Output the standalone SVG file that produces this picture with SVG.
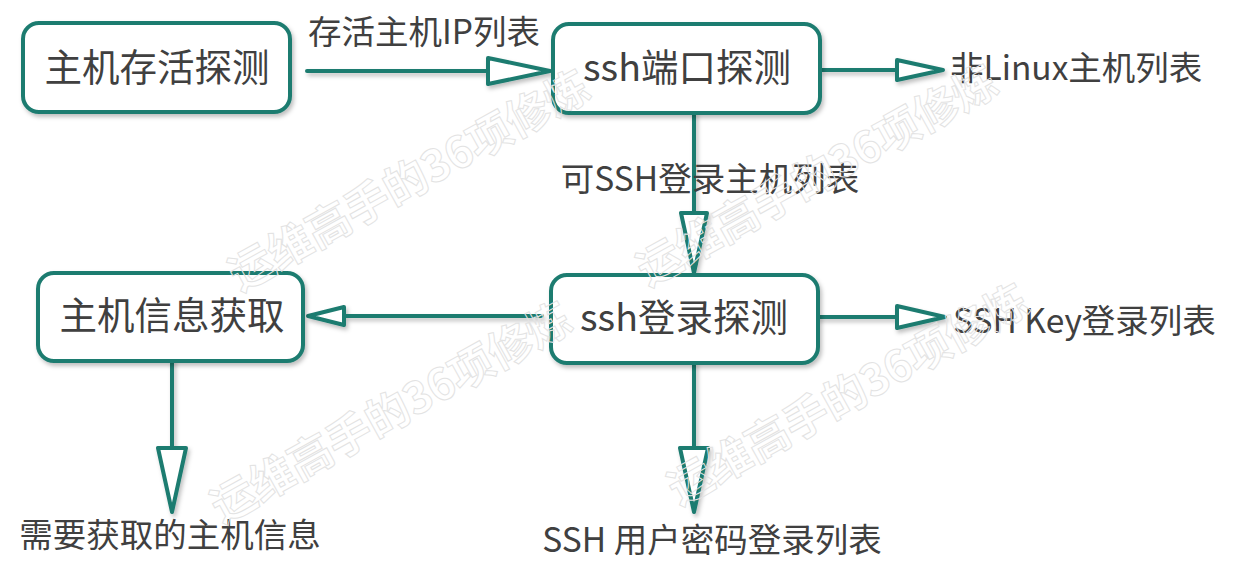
<svg xmlns="http://www.w3.org/2000/svg" width="1239" height="582" viewBox="0 0 1239 582">
<style>
.box{fill:#fff;stroke:#1e7b70;stroke-width:4;filter:url(#sh)}
.ln{fill:none;stroke:#1e7b70;stroke-width:4;stroke-linecap:round}
.hd{fill:#fff;stroke:#1e7b70;stroke-width:4;stroke-linejoin:round}
.t{font-family:"Noto Sans CJK SC","Noto Sans",sans-serif;fill:#404040}
.nt{font-size:37.5px;text-anchor:middle}
.lb{font-size:33.5px}
.wm{font-family:"Noto Sans CJK SC",sans-serif;font-size:44px;font-weight:700;fill:none;stroke:#e3e3e3;stroke-width:1}
</style>
<defs>
<filter id="sh" x="-10%" y="-10%" width="130%" height="140%">
<feDropShadow dx="2" dy="3" stdDeviation="2" flood-color="#000" flood-opacity="0.25"/>
</filter>
</defs>
<rect width="1239" height="582" fill="#fff"/>
<g id="connectors" filter="url(#sh)">
<line class="ln" x1="307" y1="71" x2="488" y2="71"/>
<polygon class="hd" points="488,58 550,71 488,84"/>
<line class="ln" x1="822" y1="70" x2="897" y2="70"/>
<polygon class="hd" points="897,60 943,70 897,80"/>
<line class="ln" x1="694" y1="113" x2="694" y2="213"/>
<polygon class="hd" points="681,213 707,213 694,273"/>
<line class="ln" x1="542" y1="316" x2="344" y2="316"/>
<polygon class="hd" points="344,307 308,316 344,325"/>
<line class="ln" x1="818" y1="317" x2="897" y2="317"/>
<polygon class="hd" points="897,306 945,317 897,328"/>
<line class="ln" x1="694" y1="363" x2="694" y2="448"/>
<polygon class="hd" points="680,448 708,448 694,512"/>
<line class="ln" x1="172" y1="360" x2="172" y2="448"/>
<polygon class="hd" points="158,448 186,448 172,512"/>
</g>
<g id="node-alive">
<rect class="box" x="23" y="23" width="267" height="89" rx="16"/>
<text class="t nt" x="157" y="81">主机存活探测</text>
</g>
<g id="node-port">
<rect class="box" x="553" y="24" width="267" height="89" rx="16"/>
<text class="t nt" x="687" y="81">ssh端口探测</text>
</g>
<g id="node-info">
<rect class="box" x="38" y="273" width="265" height="88" rx="16"/>
<text class="t nt" x="172" y="329">主机信息获取</text>
</g>
<g id="node-login">
<rect class="box" x="551" y="275" width="267" height="88" rx="16"/>
<text class="t nt" x="684" y="331">ssh登录探测</text>
</g>
<g id="labels">
<text class="t lb" x="424" y="44" text-anchor="middle">存活主机IP列表</text>
<text class="t lb" x="950" y="80">非Linux主机列表</text>
<text class="t lb" x="710" y="191" text-anchor="middle">可SSH登录主机列表</text>
<text class="t lb" x="953" y="333">SSH Key登录列表</text>
<text class="t lb" x="170" y="547" text-anchor="middle">需要获取的主机信息</text>
<text class="t lb" x="712" y="552" text-anchor="middle">SSH 用户密码登录列表</text>
</g>
<g id="watermarks">
<text class="wm" x="240" y="292" transform="rotate(-29 240 292)">运维高手的36项修炼</text>
<text class="wm" x="648" y="287" transform="rotate(-29 648 287)">运维高手的36项修炼</text>
<text class="wm" x="222" y="524" transform="rotate(-29 222 524)">运维高手的36项修炼</text>
<text class="wm" x="679" y="506" transform="rotate(-29 679 506)">运维高手的36项修炼</text>
</g>
</svg>
